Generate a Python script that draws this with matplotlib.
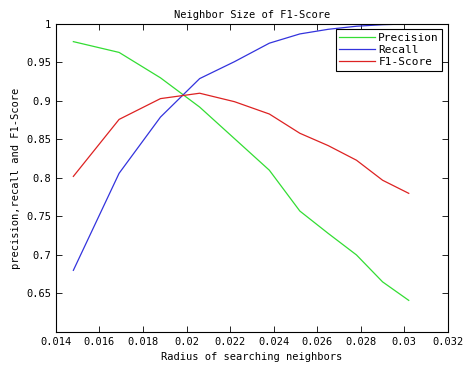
import matplotlib
matplotlib.use("Agg")
import matplotlib.pyplot as plt

radius = [0.0148, 0.0169, 0.0188, 0.0206, 0.0222, 0.0238, 0.0252, 0.0265, 0.0278, 0.0290, 0.0302]
precision = [0.977, 0.963, 0.930, 0.892, 0.851, 0.810, 0.757, 0.728, 0.700, 0.665, 0.641]
recall = [0.680, 0.806, 0.879, 0.929, 0.951, 0.975, 0.987, 0.993, 0.997, 0.999, 1.000]
f1_score = [0.802, 0.876, 0.903, 0.910, 0.899, 0.883, 0.858, 0.842, 0.823, 0.797, 0.780]

x_ticks = [0.014, 0.016, 0.018, 0.02, 0.022, 0.024, 0.026, 0.028, 0.03, 0.032]
x_tick_labels = ["0.014", "0.016", "0.018", "0.02", "0.022", "0.024", "0.026", "0.028", "0.03", "0.032"]
y_ticks = [0.65, 0.7, 0.75, 0.8, 0.85, 0.9, 0.95, 1.0]
y_tick_labels = ["0.65", "0.7", "0.75", "0.8", "0.85", "0.9", "0.95", "1"]

plt.rcParams["font.family"] = "DejaVu Sans Mono"
plt.rcParams["font.size"] = 7.5

fig = plt.figure(figsize=(4.74, 3.68), dpi=100)
ax = fig.add_axes([0.118, 0.098, 0.827, 0.837])

ax.plot(radius, precision, color="#33dd33", lw=0.9, label="Precision")
ax.plot(radius, recall, color="#3333dd", lw=0.9, label="Recall")
ax.plot(radius, f1_score, color="#dd2222", lw=0.9, label="F1-Score")

ax.set_xlim(0.014, 0.032)
ax.set_ylim(0.6, 1.0)
ax.set_xticks(x_ticks)
ax.set_xticklabels(x_tick_labels)
ax.set_yticks(y_ticks)
ax.set_yticklabels(y_tick_labels)
ax.tick_params(direction="in", top=True, right=True, length=4, width=0.6)
for s in ax.spines.values():
    s.set_linewidth(0.8)

ax.set_title("Neighbor Size of F1-Score", fontsize=7.5, pad=4)
ax.set_xlabel("Radius of searching neighbors")
ax.set_ylabel("precision,recall and F1-Score")

leg = ax.legend(loc="upper right", fancybox=False, framealpha=1, edgecolor="black",
                borderaxespad=0.5, handlelength=3.2, handletextpad=0.3,
                labelspacing=0.2, borderpad=0.3, fontsize=8)
leg.get_frame().set_linewidth(0.8)

fig.savefig("out.png", dpi=100)
